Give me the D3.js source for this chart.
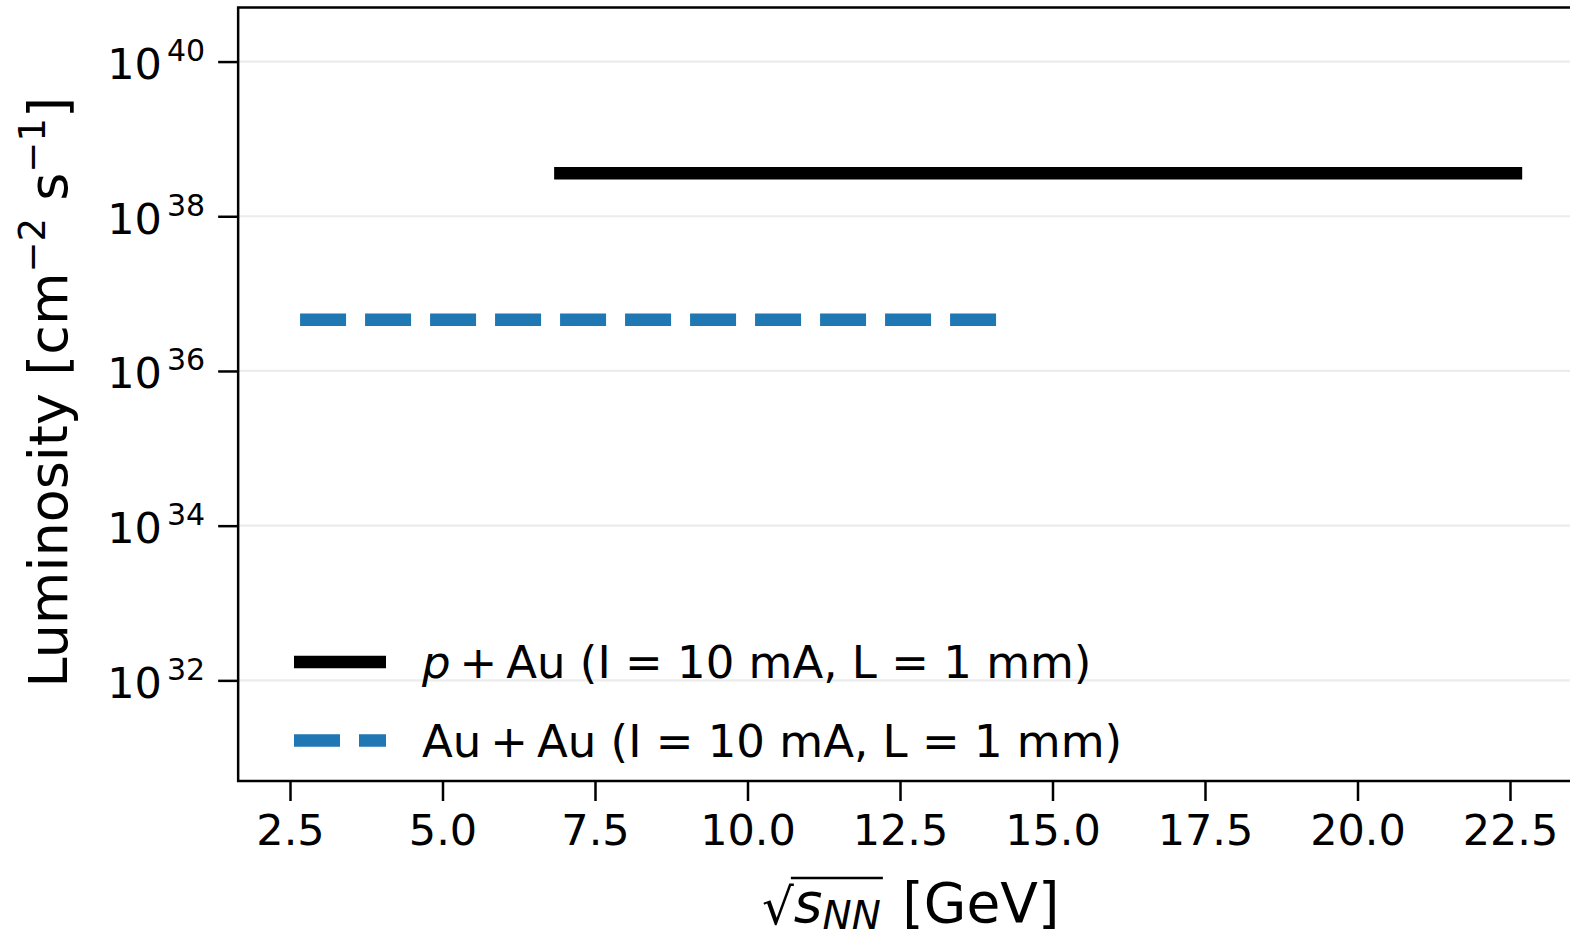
<!DOCTYPE html>
<html>
<head>
<meta charset="utf-8">
<script src="https://cdn.jsdelivr.net/npm/d3@7"></script>
<style>
  html, body { margin: 0; padding: 0; background: #fff; overflow: hidden; }
  svg { display: block; font-family: "DejaVu Sans", sans-serif; }
</style>
</head>
<body>
<svg id="chart" width="1570" height="939"></svg>
<script>
// ---- data ----
const seriesNames = ["pAu", "AuAu"];
const pAuX = [6.83, 22.7];
const pAuY = [3.6e38, 3.6e38];
const AuAuX = [2.665, 14.08];
const AuAuY = [4.6e36, 4.6e36];
const xTicks = [2.5, 5.0, 7.5, 10.0, 12.5, 15.0, 17.5, 20.0, 22.5];
const yTicks = [1e32, 1e34, 1e36, 1e38, 1e40];
const xDomain = [1.65, 23.7];
const yDomain = [5e30, 5e40];

(function () {
// ---- layout ----
const svg = d3.select("#chart");
const pL = 238.15, pR = 1583.2, pT = 7.5, pB = 781;

const x = d3.scaleLinear().domain(xDomain).range([pL, pR]);
const y = d3.scaleLog().domain(yDomain).range([pB, pT]);

// gridlines (horizontal, major y)
svg.append("g").selectAll("line").data(yTicks).join("line")
  .attr("x1", pL).attr("x2", pR)
  .attr("y1", d => y(d)).attr("y2", d => y(d))
  .attr("stroke", "#ececec").attr("stroke-width", 2.2);

// lines
const line = d3.line().x(d => x(d[0])).y(d => y(d[1]));
const pAuData = pAuX.map((v, i) => [v, pAuY[i]]);
const AuAuData = AuAuX.map((v, i) => [v, AuAuY[i]]);

svg.append("path").datum(pAuData).attr("d", line)
  .attr("fill", "none").attr("stroke", "#000").attr("stroke-width", 12.5)
  .attr("stroke-linecap", "butt");
svg.append("path").datum(AuAuData).attr("d", line)
  .attr("fill", "none").attr("stroke", "#1f77b4").attr("stroke-width", 12.5)
  .attr("stroke-dasharray", "46,19").attr("stroke-linecap", "butt");

// axes
const xAxis = d3.axisBottom(x).tickValues(xTicks).tickFormat(d3.format(".1f"))
  .tickSize(20).tickPadding(13).tickSizeOuter(0);
const gx = svg.append("g").attr("transform", `translate(0,${pB})`).call(xAxis);
gx.select(".domain").remove();
gx.selectAll(".tick line").attr("stroke", "#000").attr("stroke-width", 2.5);
gx.selectAll(".tick text").attr("fill", "#000").attr("font-size", 43)
  .attr("font-family", "DejaVu Sans").attr("dy", "0.71em");

const yAxis = d3.axisLeft(y).tickValues(yTicks).tickFormat(() => "")
  .tickSize(20).tickPadding(13).tickSizeOuter(0);
const gy = svg.append("g").attr("transform", `translate(${pL},0)`).call(yAxis);
gy.select(".domain").remove();
gy.selectAll(".tick line").attr("stroke", "#000").attr("stroke-width", 2.5);
gy.selectAll(".tick text").each(function(d) {
  const t = d3.select(this);
  t.text(null).attr("fill", "#000").attr("font-family", "DejaVu Sans")
   .attr("x", -33).attr("dy", null).attr("y", 17).attr("text-anchor", "end");
  t.append("tspan").attr("font-size", 43).text("10");
  t.append("tspan").attr("font-size", 30).attr("dx", 5).attr("dy", -18).text(String(Math.round(Math.log10(d))));
});

// frame
svg.append("rect").attr("x", pL).attr("y", pT)
  .attr("width", pR - pL).attr("height", pB - pT)
  .attr("fill", "none").attr("stroke", "#000").attr("stroke-width", 2.5);

// x label
const xl = svg.append("text").attr("x", (pL + pR) / 2).attr("y", 922)
  .attr("text-anchor", "middle").attr("font-size", 55).attr("fill", "#000");
xl.append("tspan").attr("font-size", 50).attr("dy", 2).text("\u221A");
xl.append("tspan").attr("font-style", "italic").attr("dy", -2).text("s");
xl.append("tspan").attr("font-style", "italic").attr("font-size", 39).attr("dy", 7).text("NN");
xl.append("tspan").attr("dy", -7).attr("dx", 4).text(" [GeV]");
{
  const n = xl.node();
  const e0 = n.getEndPositionOfChar(3);
  const r0 = n.getEndPositionOfChar(0);
  svg.append("line").attr("x1", r0.x - 3).attr("x2", e0.x + 2)
    .attr("y1", 878).attr("y2", 878).attr("stroke", "#000").attr("stroke-width", 2.4);
}

// y label
const yl = svg.append("text")
  .attr("transform", `translate(67,${(pT + pB) / 2 - 2}) rotate(-90)`)
  .attr("text-anchor", "middle").attr("font-size", 54).attr("fill", "#000");
yl.append("tspan").text("Luminosity [cm");
yl.append("tspan").attr("font-size", 37).attr("dy", -22).text("\u22122");
yl.append("tspan").attr("dy", 22).text(" s");
yl.append("tspan").attr("font-size", 37).attr("dy", -22).text("\u22121");
yl.append("tspan").attr("dy", 22).text("]");

// legend
const legendItems = [
  { color: "#000", dash: null, parts: [["p", true], ["\u2009+\u2009", false], ["Au (I = 10 mA, L = 1 mm)", false]] },
  { color: "#1f77b4", dash: "46,19", parts: [["Au\u2009+\u2009Au (I = 10 mA, L = 1 mm)", false]] }
];
const lg = svg.append("g");
legendItems.forEach((it, i) => {
  const cy = 662 + i * 78.5;
  lg.append("line").attr("x1", 294).attr("x2", 386).attr("y1", cy).attr("y2", cy)
    .attr("stroke", it.color).attr("stroke-width", 12.5)
    .attr("stroke-dasharray", it.dash).attr("stroke-linecap", "butt");
  const t = lg.append("text").attr("x", 422).attr("y", cy + 16)
    .attr("font-size", 45).attr("fill", "#000");
  it.parts.forEach(p => t.append("tspan").attr("font-style", p[1] ? "italic" : null).text(p[0]));
});
})();
</script>
</body>
</html>
